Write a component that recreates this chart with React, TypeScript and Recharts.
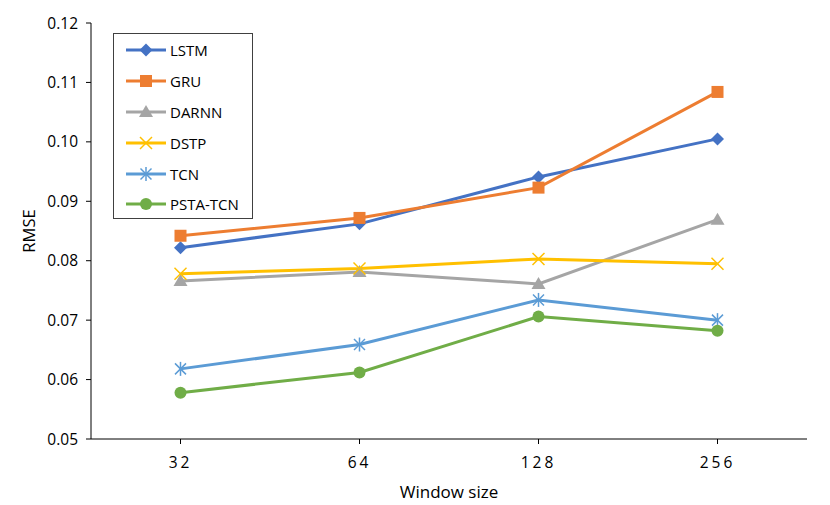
import React from 'react';
import { LineChart, Line, XAxis, YAxis } from 'recharts';

const categories = ['32', '64', '128', '256'];
const lstm = [0.0822, 0.0862, 0.0941, 0.1005];
const gru = [0.0842, 0.0872, 0.0923, 0.1084];
const darnn = [0.0766, 0.0781, 0.0761, 0.0869];
const dstp = [0.0778, 0.0787, 0.0803, 0.0795];
const tcn = [0.0618, 0.0659, 0.0734, 0.0700];
const pstaTcn = [0.0578, 0.0612, 0.0706, 0.0682];
const yTicks = [0.05, 0.06, 0.07, 0.08, 0.09, 0.1, 0.11, 0.12];

const series = [
  { name: 'LSTM', values: lstm, color: '#4472C4', marker: 'diamond' },
  { name: 'GRU', values: gru, color: '#ED7D31', marker: 'square' },
  { name: 'DARNN', values: darnn, color: '#A5A5A5', marker: 'triangle' },
  { name: 'DSTP', values: dstp, color: '#FFC000', marker: 'x' },
  { name: 'TCN', values: tcn, color: '#5B9BD5', marker: 'star' },
  { name: 'PSTA-TCN', values: pstaTcn, color: '#70AD47', marker: 'circle' },
];

const data = categories.map((c, i) => {
  const row: Record<string, string | number> = { window: c };
  series.forEach((s) => {
    row[s.name] = s.values[i];
  });
  return row;
});

const font = '"Open Sans", sans-serif';

function Marker({ cx, cy, color, type }: { cx: number; cy: number; color: string; type: string }) {
  switch (type) {
    case 'diamond':
      return <polygon points={`${cx},${cy - 6.5} ${cx + 6.5},${cy} ${cx},${cy + 6.5} ${cx - 6.5},${cy}`} fill={color} />;
    case 'square':
      return <rect x={cx - 6} y={cy - 6} width={12} height={12} fill={color} />;
    case 'triangle':
      return <polygon points={`${cx},${cy - 7} ${cx + 7},${cy + 5} ${cx - 7},${cy + 5}`} fill={color} />;
    case 'x':
      return (
        <g stroke={color} strokeWidth={1.5}>
          <line x1={cx - 6} y1={cy - 6} x2={cx + 6} y2={cy + 6} />
          <line x1={cx - 6} y1={cy + 6} x2={cx + 6} y2={cy - 6} />
        </g>
      );
    case 'star':
      return (
        <g stroke={color} strokeWidth={1.5}>
          <line x1={cx - 5.5} y1={cy - 5.5} x2={cx + 5.5} y2={cy + 5.5} />
          <line x1={cx - 5.5} y1={cy + 5.5} x2={cx + 5.5} y2={cy - 5.5} />
          <line x1={cx} y1={cy - 7} x2={cx} y2={cy + 7} />
        </g>
      );
    default:
      return <circle cx={cx} cy={cy} r={6} fill={color} />;
  }
}

const LegendBox = () => (
  <div
    style={{
      position: 'absolute',
      left: 113,
      top: 33,
      width: 140,
      height: 186,
      border: '1px solid #404040',
      background: '#fff',
      boxSizing: 'border-box',
      paddingTop: 1,
    }}
  >
    {series.map((s) => (
      <div key={s.name} style={{ display: 'flex', alignItems: 'center', height: 30.8 }}>
        <svg width={56} height={20} style={{ display: 'block' }}>
          <line x1={12} y1={10} x2={52} y2={10} stroke={s.color} strokeWidth={3} />
          <Marker cx={32} cy={10} color={s.color} type={s.marker} />
        </svg>
        <span style={{ fontFamily: font, fontSize: 15, color: '#000' }}>{s.name}</span>
      </div>
    ))}
  </div>
);

export default function App() {
  return (
    <div style={{ position: 'absolute', left: 0, top: 0, width: 830, height: 505, background: '#fff' }}>
      <LineChart width={830} height={505} data={data} margin={{ top: 23, right: 23, bottom: 0, left: 0 }}>
        <XAxis
          dataKey="window"
          height={66}
          padding={{ left: 89.5, right: 89.5 }}
          tickSize={5}
          tickMargin={13}
          stroke="#000"
          tick={{ fill: '#000', fontFamily: font, fontSize: 15.5, letterSpacing: 3 }}
          label={(props: any) => {
            const vb = props.viewBox;
            return (
              <text x={vb.x + vb.width / 2} y={vb.y + 59} textAnchor="middle" fontFamily={font} fontSize={17} fill="#000">
                Window size
              </text>
            );
          }}
        />
        <XAxis xAxisId="top" dataKey="window" orientation="top" height={0} tick={false} tickLine={false} stroke="#000" />
        <YAxis
          domain={[0.05, 0.12]}
          ticks={yTicks}
          width={91}
          tickSize={5}
          tickMargin={8}
          stroke="#000"
          tickFormatter={(v: number) => v.toFixed(2)}
          tick={{ fill: '#000', fontFamily: font, fontSize: 15.5 }}
          label={(props: any) => {
            const vb = props.viewBox;
            const x = vb.x + 28;
            const y = vb.y + vb.height / 2;
            return (
              <text x={x} y={y} transform={`rotate(-90 ${x} ${y})`} textAnchor="middle" dominantBaseline="central" fontFamily={font} fontSize={16.5} fill="#000">
                RMSE
              </text>
            );
          }}
        />
        <YAxis yAxisId="right" orientation="right" width={0} domain={[0.05, 0.12]} tick={false} tickLine={false} stroke="#000" />
        {series.map((s) => (
          <Line
            key={s.name}
            dataKey={s.name}
            stroke={s.color}
            strokeWidth={3}
            isAnimationActive={false}
            dot={(p: any) => <Marker key={`${s.name}-${p.index}`} cx={p.cx} cy={p.cy} color={s.color} type={s.marker} />}
            activeDot={false}
          />
        ))}
      </LineChart>
      <LegendBox />
    </div>
  );
}
